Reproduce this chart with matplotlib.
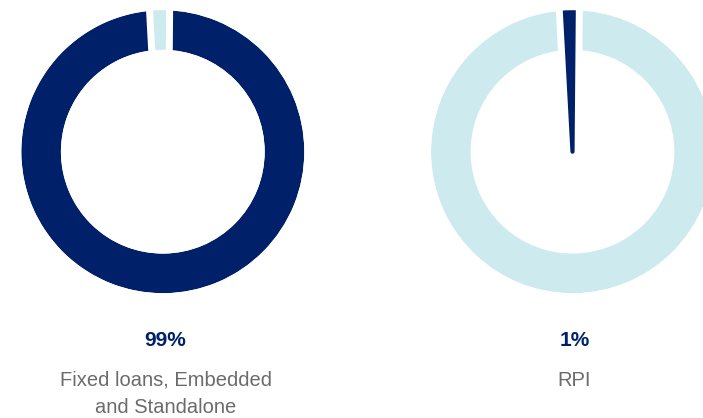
import numpy as np
import matplotlib.pyplot as plt
from matplotlib.patches import Wedge, Circle

# shares by category (percent)
shares = [99, 1]
pct_labels = ["99%", "1%"]
names = ["Fixed loans, Embedded\nand Standalone", "RPI"]

navy = "#00216a"
pale = "#cdeaee"
grey = "#6b6b6b"

W, H = 703, 418
fig = plt.figure(figsize=(W / 100, H / 100), dpi=100)

R_PX = 141.5           # outer radius in pixels
HOLE = 0.28            # ring width as fraction of radius
EDGE_PT = 3            # outline on the small slice, points
GAP_PX = 7 + EDGE_PT * 100 / 72 / 2   # white strip incl. part hidden under outline
centres = [(162.8, 151.7), (572.5, 151.7)]
text_x = [165.5, 574.5]


def add_gap(ax, theta, side):
    # white strip alongside a slice boundary, pushed away from the small slice
    t = np.deg2rad(theta)
    off = GAP_PX / 2 / R_PX
    nx, ny = side * np.sin(t), -side * np.cos(t)
    r = np.array([1 - HOLE - 0.03, 1.08])
    ax.plot(r * np.cos(t) + nx * off, r * np.sin(t) + ny * off,
            color="white", lw=GAP_PX * 0.72, solid_capstyle="butt",
            clip_on=False, zorder=5)


for i, (cx, cy) in enumerate(centres):
    ax = fig.add_axes([(cx - R_PX) / W, (H - cy - R_PX) / H,
                       2 * R_PX / W, 2 * R_PX / H])
    small = 100 - shares[i] if i == 0 else shares[i]
    big = 100 - small
    # small slice first, counter-clockwise from just right of 12 o'clock
    if i == 0:
        cols = [pale, navy]
    else:
        cols = [navy, pale]
    start = 89.5
    wedges, _ = ax.pie([small, big], colors=cols, startangle=start,
                       counterclock=True, radius=1,
                       wedgeprops=dict(width=HOLE, linewidth=0))
    wedges[0].set_edgecolor(cols[0])
    wedges[0].set_linewidth(EDGE_PT)
    wedges[0].set_joinstyle("miter")
    wedges[0].set_zorder(6)
    for w in wedges:
        w.set_clip_on(False)
    if i == 1:
        # the small slice on this ring runs right into the centre
        wedges[0].set_width(None)
        wedges[0].set_joinstyle("round")
    else:
        # trim the outline back to the ring's inner edge
        ax.add_patch(Circle((0, 0), 1 - HOLE, color="white", lw=0, zorder=7))
    # trim the outline back to the ring's outer edge
    ax.add_patch(Wedge((0, 0), 1.06, 0, 360, width=0.06, color="white",
                       lw=0, zorder=7, clip_on=False))
    end = start + small / 100 * 360
    add_gap(ax, start, 1)
    add_gap(ax, end, -1)
    ax.set_xlim(-1, 1)
    ax.set_ylim(-1, 1)
    ax.set_aspect("auto")
    ax.axis("off")

    tx = text_x[i] / W
    fig.text(tx, (H - 346) / H, pct_labels[i], ha="center", va="baseline",
             fontsize=15, fontweight="bold", color=navy,
             family="Liberation Sans")
    for k, line in enumerate(names[i].split("\n")):
        fig.text(tx, (H - 385.7 - 27 * k) / H, line, ha="center",
                 va="baseline", fontsize=14.5, color=grey,
                 family="Liberation Sans")

fig.savefig("out.png", dpi=100)
